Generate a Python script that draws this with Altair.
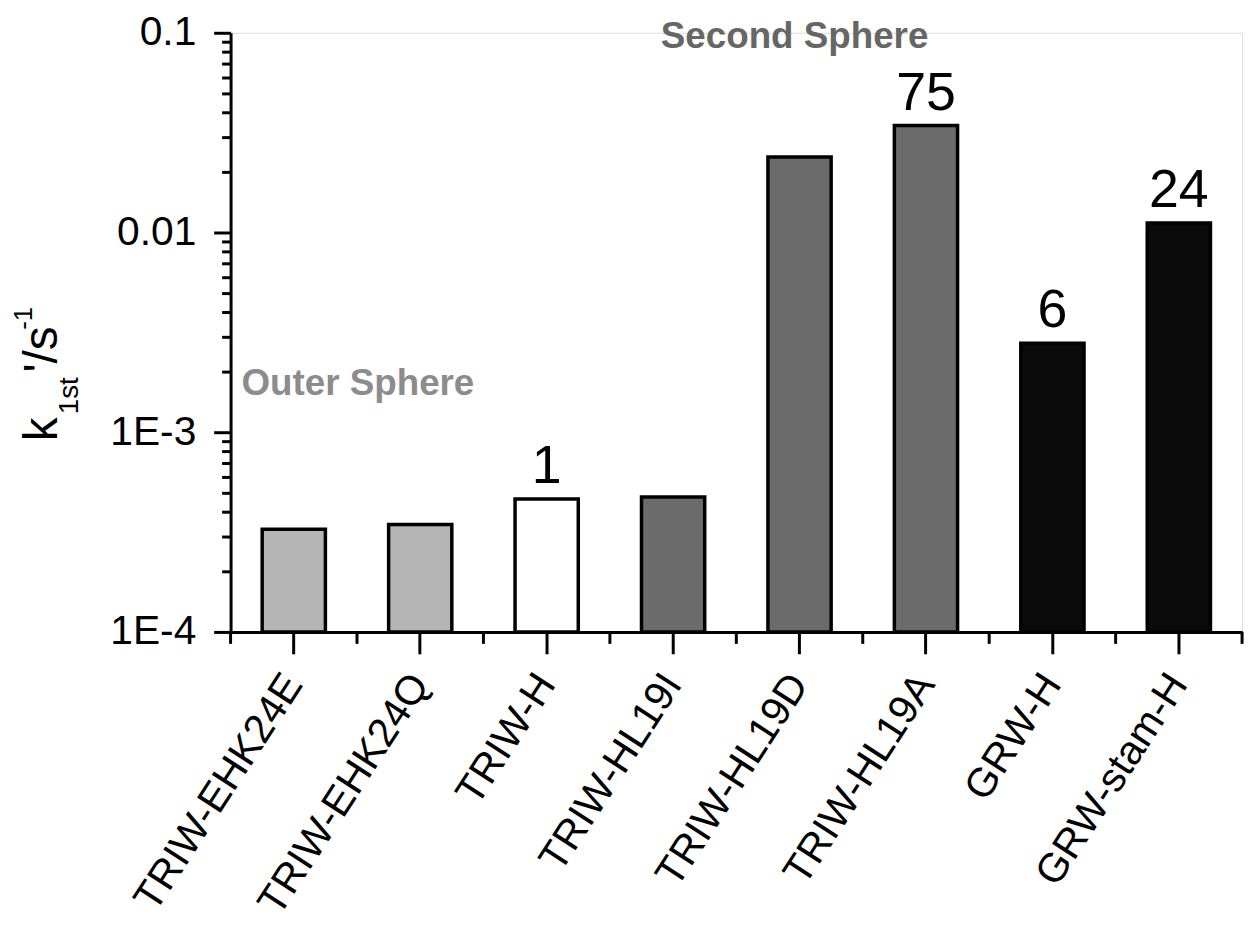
import altair as alt
import pandas as pd

# ---- data ----
categories = ["TRIW-EHK24E", "TRIW-EHK24Q", "TRIW-H", "TRIW-HL19I",
              "TRIW-HL19D", "TRIW-HL19A", "GRW-H", "GRW-stam-H"]
rates = [3.27e-4, 3.45e-4, 4.63e-4, 4.74e-4, 0.0239, 0.0343, 0.00279, 0.01117]
groups = ["outer", "outer", "ref", "second", "second", "second", "grw", "grw"]
ratio_labels = ["", "", "1", "", "", "75", "6", "24"]

group_domain = ["outer", "ref", "second", "grw"]
group_colors = ["#b5b5b5", "#ffffff", "#6b6b6b", "#0b0b0b"]

y_domain = [1e-4, 0.1]
ytick_major = [1e-4, 1e-3, 1e-2, 1e-1]
ytick_labels = ["1E-4", "1E-3", "0.01", "0.1"]
minor_mult = [2, 3, 4, 5, 6, 7, 8, 9]

df = pd.DataFrame({"cat": categories, "k": rates, "group": groups,
                   "lab": ratio_labels, "base": [y_domain[0]] * len(categories)})

TOP = 22
W, H = 1018, 625 - TOP
FONT = "Liberation Sans"

yticks = []
for d in ytick_major:
    yticks.append(d)
    if d < 0.1:
        yticks += [d * m for m in minor_mult]

major_test = "abs(log(datum.value)/LN10 - round(log(datum.value)/LN10)) < 0.001"
lab_expr = ("(" + major_test + ") ? (datum.value > 0.05 ? '" + ytick_labels[3] +
            "' : datum.value > 0.005 ? '" + ytick_labels[2] +
            "' : datum.value > 0.0005 ? '" + ytick_labels[1] +
            "' : '" + ytick_labels[0] + "') : ''")

xenc = alt.X("cat:N", sort=categories, title=None,
             scale=alt.Scale(paddingInner=0, paddingOuter=0),
             axis=alt.Axis(labelAngle=303, labelFont=FONT, labelFontSize=41,
                           labelColor="black", labelPadding=24, tickSize=22,
                           tickWidth=3, tickColor="black", domainWidth=3,
                           domainColor="black", labelAlign="right",
                           labelBaseline="middle", labelOverlap=False,
                           labelLimit=0))
yscale = alt.Scale(type="log", domain=y_domain, nice=False)
yenc = alt.Y("k:Q", title=None, scale=yscale,
             axis=alt.Axis(values=yticks, labelExpr=lab_expr, labelFont=FONT,
                           labelFontSize=41, labelColor="black", labelPadding=18,
                           tickSize={"condition": {"test": major_test, "value": 17}, "value": 9},
                           tickWidth=3, tickColor="black", domainWidth=3,
                           domainColor="black", labelOverlap=False, grid=False))

base = alt.Chart(df)

bars = base.mark_bar(width=alt.RelativeBandSize(0.5), stroke="black",
                     strokeWidth=3.5).encode(
    x=xenc, y=yenc, y2=alt.Y2("base:Q"),
    fill=alt.Fill("group:N", scale=alt.Scale(domain=group_domain, range=group_colors),
                  legend=None))

nums = base.transform_filter("datum.lab != ''").mark_text(
    font=FONT, fontSize=54, baseline="alphabetic", align="center", dy=-16,
    color="black").encode(
    x=alt.X("cat:N", sort=categories), y=alt.Y("k:Q"), text="lab:N")

minor_x = base.mark_rule(color="black", strokeWidth=3).encode(
    x=alt.X("cat:N", sort=categories, bandPosition=0),
    y=alt.value(H), y2=alt.value(H + 12))
minor_x_end = base.transform_filter(
    alt.datum.cat == categories[-1]).mark_rule(color="black", strokeWidth=3).encode(
    x=alt.X("cat:N", sort=categories, bandPosition=1),
    y=alt.value(H), y2=alt.value(H + 12))


def txt(s, x, y, size, color="black", weight="normal", angle=0):
    d = pd.DataFrame({"t": [s]})
    kw = dict(font=FONT, fontSize=size, color=color, fontWeight=weight,
              align="left", baseline="alphabetic")
    if angle:
        kw["angle"] = angle
    return alt.Chart(d).mark_text(**kw).encode(
        text="t:N", x=alt.value(x), y=alt.value(y))


oy = TOP - 12
outer = txt("Outer Sphere", 11, 375 - oy, 37, color="#8c8c8c", weight="bold")
second = txt("Second Sphere", 433, 25 - oy, 37, color="#666666", weight="bold")

# y-axis title: k_1st '/s^-1 (rotated)
t_k = txt("k", -175, 421 - oy, 48, angle=270)
t_sub = txt("1st", -154, 394 - oy, 28, angle=270)
t_s = txt("'/s", -175, 352 - oy, 48, angle=270)
t_sup = txt("-1", -200, 309 - oy, 26, angle=270)

chart = alt.layer(bars, minor_x, minor_x_end, nums, outer, second,
                  t_k, t_sub, t_s, t_sup).properties(
    width=W, height=H,
    autosize=alt.AutoSizeParams(type="none"),
    padding={"left": 224, "top": TOP, "right": 10, "bottom": 290},
).configure_view(stroke=None).configure(background="white")

chart.save("out.html", embed_options={"renderer": "svg", "actions": False})
